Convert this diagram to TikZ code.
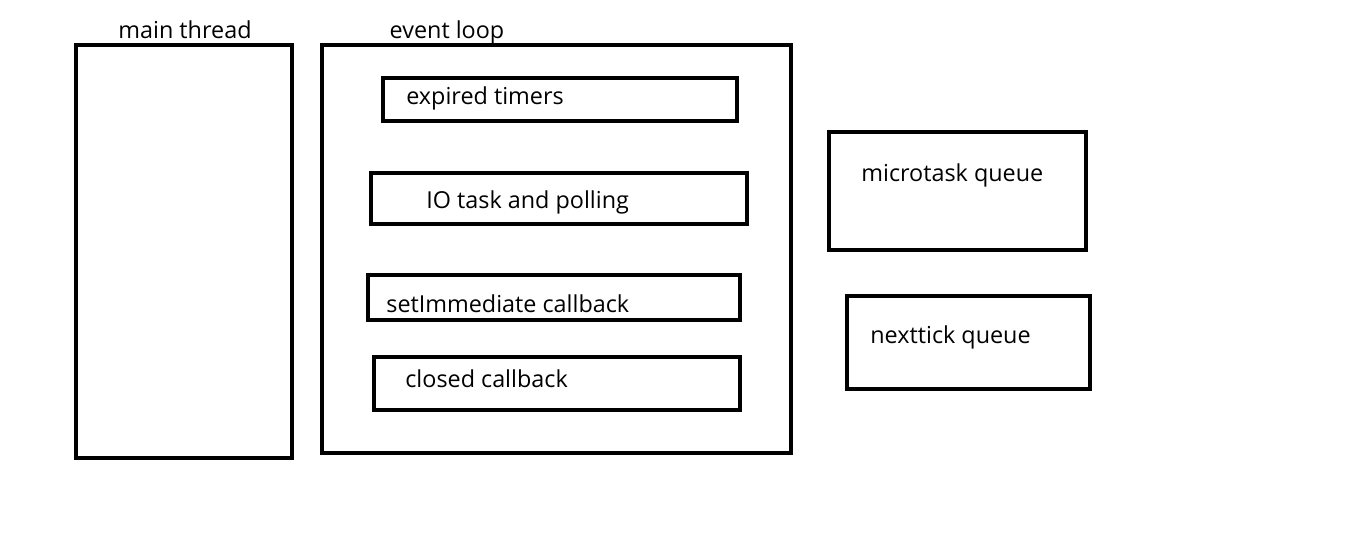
\documentclass[tikz,border=0pt]{standalone}
\usepackage{fontspec}
\setmainfont{Open Sans}
\usetikzlibrary{positioning}

\tikzset{
  labelstyle/.style={font=\fontsize{13.3}{16}\selectfont, inner sep=0pt, anchor=west}
}

\begin{document}
\begin{tikzpicture}[x=0.02cm, y=-0.02cm]
    % Canvas
    \useasboundingbox (0,0) rectangle (1360,551);

    % Main thread
    \draw[line width=2pt] (76,45) rectangle (292,458);
    \node[labelstyle, anchor=center] (mainlabel) at (185,30) {main thread};

    % Event loop
    \draw[line width=2pt] (322,45) rectangle (791,453);
    \node[labelstyle, anchor=center] (looplabel) at (447,32) {event loop};

    % Phases
    \draw[line width=2pt] (383,78) rectangle (737,121);
    \node[labelstyle] (timers) at (406,98) {expired timers};
    \draw[line width=2pt] (371,173) rectangle (747,224);
    \node[labelstyle] (io) at (426,202) {IO task and polling};
    \draw[line width=2pt] (368,275) rectangle (740,320);
    \node[labelstyle] (immediate) at (386,304) {setImmediate callback};
    \draw[line width=2pt] (374,357) rectangle (740,410);
    \node[labelstyle] (closed) at (405,379) {closed callback};

    % Queues
    \draw[line width=2pt] (829,132) rectangle (1086,250);
    \node[labelstyle] (micro) at (861,175) {microtask queue};
    \draw[line width=2pt] (847,296) rectangle (1090,389);
    \node[labelstyle] (tick) at (870,337) {nexttick queue};
\end{tikzpicture}
\end{document}
